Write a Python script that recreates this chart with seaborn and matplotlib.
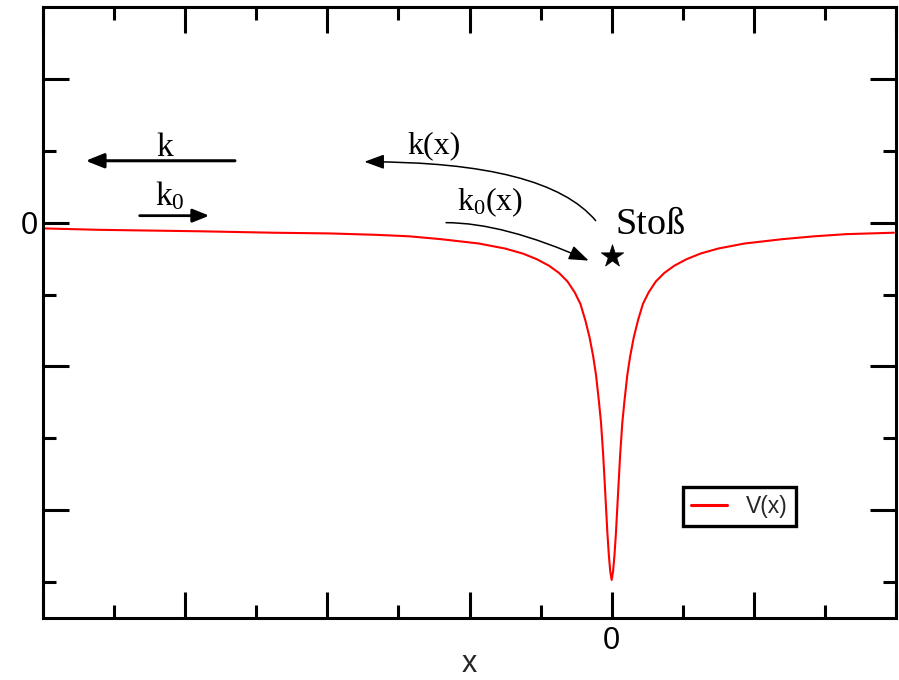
import matplotlib
matplotlib.use("Agg")
import matplotlib.pyplot as plt
from matplotlib.ticker import FixedLocator, FixedFormatter
import seaborn as sns
import pandas as pd

# Potential curve V(x)
x_vals = [-8.00, -7.20, -5.80, -4.77, -3.97, -3.30, -2.85, -2.40, -1.87, -1.50,
          -1.25, -1.05, -0.88, -0.74, -0.62, -0.52, -0.44, -0.37, -0.31, -0.26,
          -0.22, -0.18, -0.15, -0.12, -0.10, -0.08, -0.06, -0.04, -0.02, 0.00,
          0.02, 0.04, 0.06, 0.08, 0.10, 0.12, 0.15, 0.18, 0.22, 0.26,
          0.31, 0.37, 0.44, 0.52, 0.62, 0.74, 0.88, 1.05, 1.25, 1.50,
          1.87, 2.40, 2.85, 3.30, 3.97]
v_vals = [-0.08, -0.10, -0.12, -0.14, -0.15, -0.17, -0.19, -0.23, -0.29, -0.36,
          -0.43, -0.51, -0.60, -0.70, -0.82, -0.97, -1.13, -1.36, -1.60, -1.86,
          -2.12, -2.48, -2.78, -3.22, -3.58, -3.95, -4.32, -4.62, -4.85, -4.97,
          -4.85, -4.62, -4.32, -3.95, -3.58, -3.22, -2.78, -2.48, -2.12, -1.86,
          -1.60, -1.36, -1.13, -0.97, -0.82, -0.70, -0.60, -0.51, -0.43, -0.36,
          -0.29, -0.23, -0.19, -0.16, -0.14]

# Collision point
star_x = [0.0]
star_y = [-0.46]

# Axis ticks
x_major = [-8, -6, -4, -2, 0, 2, 4]
x_major_labels = ["", "", "", "", "0", "", ""]
x_minor = [-7, -5, -3, -1, 1, 3]
y_major = [-4, -2, 0, 2]
y_major_labels = ["", "", "0", ""]
y_minor = [-5, -3, -1, 1]

sns.set_theme(style="white")
plt.rcParams["font.family"] = ["Liberation Sans", "DejaVu Sans"]
plt.rcParams["mathtext.fontset"] = "custom"
plt.rcParams["mathtext.rm"] = "Liberation Serif"
plt.rcParams["mathtext.it"] = "Liberation Serif:italic"

fig = plt.figure(figsize=(8.99, 6.80), dpi=100)
ax = fig.add_axes([43 / 899, 62 / 680, 853 / 899, 611 / 680])

df = pd.DataFrame({"x": x_vals, "V": v_vals})
sns.lineplot(data=df, x="x", y="V", ax=ax, color="#ff0000", linewidth=1.5,
             label="V(x)", sort=False)

sns.scatterplot(x=star_x, y=star_y, ax=ax, marker="*", s=17 ** 2,
                color="black", edgecolor="black", linewidth=0.5, legend=False)

ax.set_xlim(-8, 4)
ax.set_ylim(-5.5, 3)

ax.xaxis.set_major_locator(FixedLocator(x_major))
ax.xaxis.set_major_formatter(FixedFormatter(x_major_labels))
ax.xaxis.set_minor_locator(FixedLocator(x_minor))
ax.yaxis.set_major_locator(FixedLocator(y_major))
ax.yaxis.set_major_formatter(FixedFormatter(y_major_labels))
ax.yaxis.set_minor_locator(FixedLocator(y_minor))

ax.tick_params(which="both", direction="in", top=True, right=True,
               bottom=True, left=True, width=2.2, color="black",
               labelsize=22, labelcolor="black")
ax.tick_params(which="major", length=18.7)
ax.tick_params(which="minor", length=9.4)
ax.tick_params(axis="x", which="major", pad=5.5)
ax.tick_params(axis="y", which="major", pad=4.0)

for sp in ax.spines.values():
    sp.set_linewidth(2.2)
    sp.set_color("black")

ax.set_xlabel("x", fontsize=22, labelpad=-5)
ax.set_ylabel("")

serif = "Liberation Serif"
arrow_k = dict(arrowstyle="-|>,head_length=0.55,head_width=0.22",
               color="black", lw=2.2, shrinkA=0, shrinkB=0, mutation_scale=20)
# k : outgoing wave far away
ax.annotate("", xy=(-7.40, 0.861), xytext=(-5.30, 0.861), arrowprops=arrow_k)
ax.text(-6.28, 0.93, "k", fontsize=24, family=serif, ha="center",
        va="baseline", color="black")
# k0 : incoming wave
arrow_k0 = dict(arrowstyle="-|>,head_length=0.5,head_width=0.2",
                color="black", lw=2.0, shrinkA=0, shrinkB=0, mutation_scale=20)
ax.annotate("", xy=(-5.66, 0.097), xytext=(-6.64, 0.097), arrowprops=arrow_k0)
ax.text(-6.22, 0.236, r"$\mathrm{k}_{\mathrm{0}}$", fontsize=24, ha="center",
        va="baseline", color="black")

# curved arrows near the well
arrow_thin = dict(arrowstyle="-|>,head_length=0.6,head_width=0.22",
                  color="black", lw=1.1, shrinkA=0, shrinkB=0, mutation_scale=20)
ax.annotate("", xy=(-3.48, 0.847), xytext=(-0.225, 0.028),
            arrowprops=dict(arrow_thin, connectionstyle="angle3,angleA=130,angleB=0"))
ax.text(-2.50, 0.972, "k(x)", fontsize=23, family=serif, ha="center",
        va="baseline", color="black")
ax.annotate("", xy=(-0.323, -0.528), xytext=(-2.33, 0.0),
            arrowprops=dict(arrow_thin, connectionstyle="angle3,angleA=0,angleB=-24"))
ax.text(-1.71, 0.167, r"$\mathrm{k}_{\mathrm{0}}\mathrm{(x)}$", fontsize=23,
        ha="center", va="baseline", color="black")

ax.text(0.056, -0.153, "Stoß", fontsize=27.5, family=serif, ha="left",
        va="baseline", color="black")

leg = ax.legend(loc="upper left", bbox_to_anchor=(0.750, 0.214),
                borderaxespad=0, fontsize=16.5, frameon=True, fancybox=False,
                framealpha=1, edgecolor="black", handlelength=1.6,
                handletextpad=0.8, borderpad=0.35)
leg.get_frame().set_linewidth(2.4)
for ln in leg.get_lines():
    ln.set_linewidth(2.2)

fig.savefig("out.png", dpi=100, facecolor="white")
